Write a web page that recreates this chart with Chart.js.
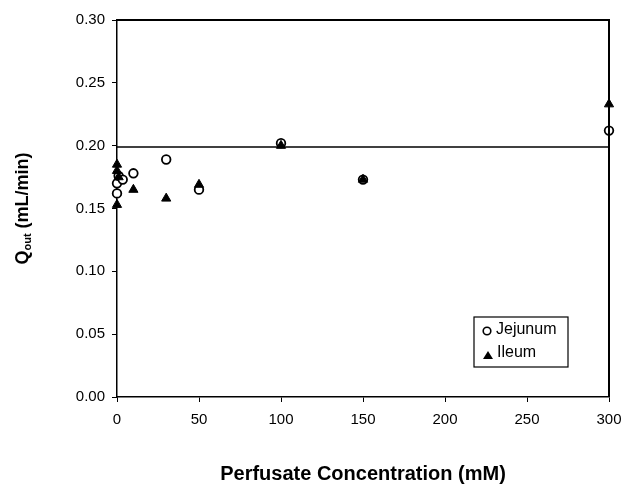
<!DOCTYPE html>
<html>
<head>
<meta charset="utf-8">
<script src="https://cdn.jsdelivr.net/npm/chart.js@4"></script>
<style>
html,body{margin:0;padding:0;background:#fff;}
#wrap{width:621px;height:489px;position:relative;}
</style>
</head>
<body>
<div id="wrap"><canvas id="c" width="621" height="489"></canvas></div>
<script>
// Data
const jejunumX = [0, 0, 1, 3.5, 10, 30, 50, 100, 150, 300];
const jejunumY = [0.162, 0.170, 0.176, 0.173, 0.178, 0.189, 0.165, 0.202, 0.173, 0.212];
const ileumX = [0, 0, 0, 1, 10, 30, 50, 100, 150, 300];
const ileumY = [0.153, 0.185, 0.180, 0.175, 0.165, 0.158, 0.169, 0.200, 0.173, 0.233];
const refLineX = [0, 300];
const refLineY = [0.199, 0.199];
const xTicks = [0, 50, 100, 150, 200, 250, 300];
const yTicks = [0, 0.05, 0.10, 0.15, 0.20, 0.25, 0.30];
const seriesNames = ['Jejunum', 'Ileum'];

const toPts = (xs, ys) => xs.map((x, i) => ({x: x, y: ys[i]}));
const FONT = "'Liberation Sans', Arial, sans-serif";

const framePlugin = {
  id: 'frame',
  afterDraw(chart) {
    const ctx = chart.ctx, a = chart.chartArea;
    ctx.save();
    ctx.strokeStyle = '#000';
    ctx.lineWidth = 2;
    ctx.beginPath();
    ctx.moveTo(a.left, a.top);
    ctx.lineTo(a.right, a.top);
    ctx.lineTo(a.right, a.bottom);
    ctx.stroke();

    // y title with subscript
    ctx.fillStyle = '#000';
    ctx.translate(23, (a.top + a.bottom) / 2);
    ctx.rotate(-Math.PI / 2);
    const big = "bold 18px " + FONT, small = "bold 11px " + FONT;
    ctx.font = big; const wQ = ctx.measureText('Q').width;
    ctx.font = small; const wOut = ctx.measureText('out').width;
    ctx.font = big; const wRest = ctx.measureText(' (mL/min)').width;
    let x0 = -(wQ + wOut + wRest) / 2;
    ctx.textBaseline = 'middle';
    ctx.textAlign = 'left';
    ctx.font = big; ctx.fillText('Q', x0, 0);
    ctx.font = small; ctx.fillText('out', x0 + wQ, 5);
    ctx.font = big; ctx.fillText(' (mL/min)', x0 + wQ + wOut, 0);
    ctx.restore();

    // legend box
    ctx.save();
    const bx = 474, by = 317, bw = 94, bh = 50;
    ctx.fillStyle = '#fff';
    ctx.fillRect(bx, by, bw, bh);
    ctx.strokeStyle = '#000';
    ctx.lineWidth = 1.2;
    ctx.strokeRect(bx, by, bw, bh);
    ctx.beginPath();
    ctx.arc(487, 331, 3.8, 0, Math.PI * 2);
    ctx.lineWidth = 1.6;
    ctx.stroke();
    ctx.fillStyle = '#000';
    ctx.beginPath();
    ctx.moveTo(488, 351);
    ctx.lineTo(493, 359);
    ctx.lineTo(483, 359);
    ctx.closePath();
    ctx.fill();
    ctx.font = "16px " + FONT;
    ctx.textBaseline = 'middle';
    ctx.textAlign = 'left';
    ctx.fillText(seriesNames[0], 496, 330);
    ctx.fillText(seriesNames[1], 497, 353);
    ctx.restore();
  }
};

new Chart(document.getElementById('c'), {
  type: 'scatter',
  data: {
    datasets: [
      {
        type: 'line',
        label: 'ref',
        data: toPts(refLineX, refLineY),
        borderColor: '#000',
        borderWidth: 1.5,
        pointRadius: 0,
        fill: false,
        order: 3
      },
      {
        label: seriesNames[0],
        data: toPts(jejunumX, jejunumY),
        pointStyle: 'circle',
        pointRadius: 4.3,
        pointBorderWidth: 1.8,
        pointBorderColor: '#000',
        pointBackgroundColor: '#fff',
        order: 2
      },
      {
        label: seriesNames[1],
        data: toPts(ileumX, ileumY),
        pointStyle: 'triangle',
        pointRadius: 5.3,
        pointBorderWidth: 1,
        pointBorderColor: '#000',
        pointBackgroundColor: '#000',
        order: 1
      }
    ]
  },
  options: {
    responsive: false,
    animation: false,
    clip: false,
    layout: {padding: {top: 20, right: 12, left: 0, bottom: 0}},
    plugins: {legend: {display: false}, tooltip: {enabled: false}},
    scales: {
      x: {
        type: 'linear',
        min: 0, max: 300,
        afterBuildTicks: s => { s.ticks = xTicks.map(v => ({value: v})); },
        afterFit: s => { s.height = 92; s.paddingRight = 0; s.paddingLeft = 0; },
        grid: {display: true, drawOnChartArea: false, drawTicks: true, tickLength: 5, color: '#000', lineWidth: 1},
        border: {display: true, color: '#000', width: 1.5},
        ticks: {color: '#000', font: {family: FONT, size: 15}, padding: 9, maxRotation: 0},
        title: {display: true, text: 'Perfusate Concentration (mM)', color: '#000', font: {family: FONT, size: 20, weight: 'bold'}, padding: {top: 0, bottom: 3}}
      },
      y: {
        type: 'linear',
        min: 0, max: 0.30,
        afterBuildTicks: s => { s.ticks = yTicks.map(v => ({value: v})); },
        afterFit: s => { s.width = 117; s.paddingTop = 0; s.paddingBottom = 0; },
        grid: {display: true, drawOnChartArea: false, drawTicks: true, tickLength: 5, color: '#000', lineWidth: 1},
        border: {display: true, color: '#000', width: 1.5},
        ticks: {color: '#000', font: {family: FONT, size: 15}, padding: 7, callback: v => v.toFixed(2)}
      }
    }
  },
  plugins: [framePlugin]
});
</script>
</body>
</html>
